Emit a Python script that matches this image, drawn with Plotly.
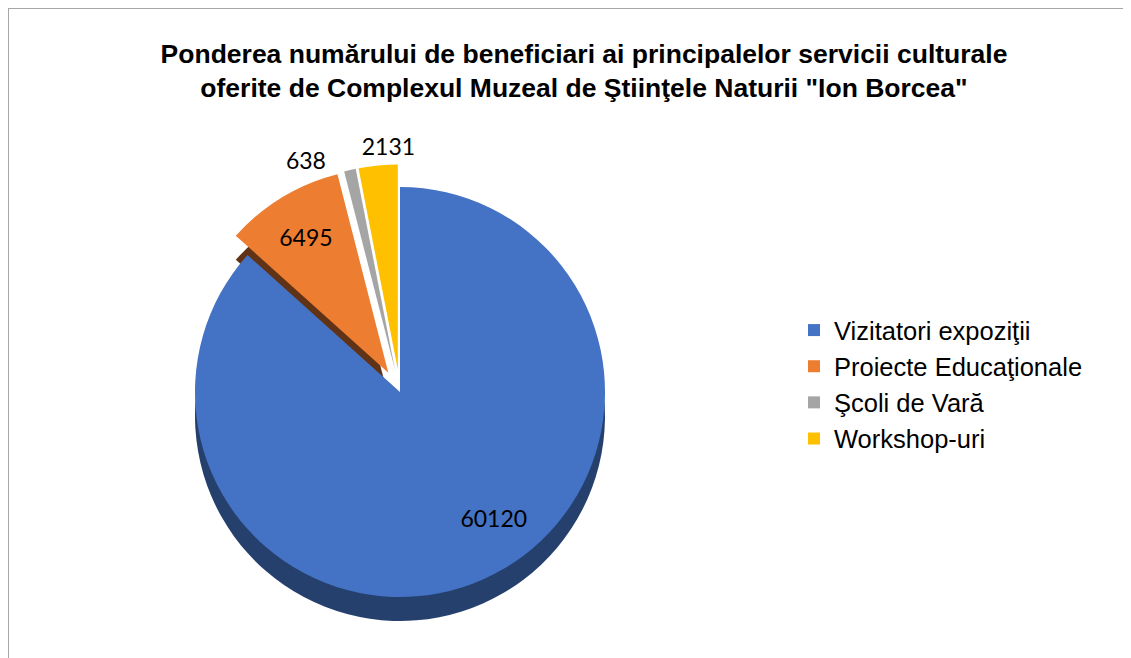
import plotly.graph_objects as go

categories = ["Vizitatori expoziţii", "Proiecte Educaţionale", "Şcoli de Vară", "Workshop-uri"]
values = [60120, 6495, 638, 2131]
colors = ["#4472c4", "#ed7d31", "#a5a5a5", "#ffc000"]
side_colors = ["#26406e", "#603316", "rgba(0,0,0,0)", "rgba(0,0,0,0)"]
pulls = [0, 0.11, 0.11, 0.11]
# labels split over several traces so each sits where the reference shows it
orange_templates = ["", "%{value:.0f}", "", ""]
blue_templates = ["%{value:.0f}", "", "", ""]
gray_templates = ["", "", "%{value:.0f}", ""]
yellow_templates = ["", "", "", "%{value:.0f}"]

# page body has an 8px margin, so figure coordinates are screen - 8
W, H = 1123, 650
cx, cy, r = 392, 384, 205
half = r * (1 + max(pulls))
depth = 24

def dom(cx_px, cy_px):
    return dict(x=[(cx_px - half) / W, (cx_px + half) / W],
                y=[1 - (cy_px + half) / H, 1 - (cy_px - half) / H])

lab_font = dict(family="Lato, Carlito, sans-serif", size=23, color="black")
clear = ["rgba(0,0,0,0)"] * 4

fig = go.Figure()
fig.add_trace(go.Pie(
    labels=categories, values=values, sort=False, direction="clockwise", rotation=0,
    pull=pulls, marker=dict(colors=side_colors, line=dict(width=0)),
    textinfo="none", hoverinfo="skip", showlegend=False, domain=dom(cx, cy + depth),
))
fig.add_trace(go.Pie(
    labels=categories, values=values, sort=False, direction="clockwise", rotation=0,
    pull=pulls, marker=dict(colors=colors, line=dict(width=0)),
    textinfo="none", texttemplate=orange_templates, textposition="inside",
    insidetextorientation="horizontal",
    textfont=lab_font, insidetextfont=lab_font,
    domain=dom(cx, cy),
))

def label_trace(templates, pos, dx, dy):
    return go.Pie(
        labels=categories, values=values, sort=False, direction="clockwise", rotation=0,
        pull=pulls, marker=dict(colors=clear, line=dict(width=0)),
        textinfo="none", texttemplate=templates, textposition=pos,
        insidetextorientation="horizontal",
        textfont=lab_font, insidetextfont=lab_font, outsidetextfont=lab_font,
        hoverinfo="skip", showlegend=False, domain=dom(cx + dx, cy + dy),
    )

fig.add_trace(label_trace(blue_templates, "inside", 52, 32))
fig.add_trace(label_trace(gray_templates, "outside", -17, 3))
fig.add_trace(label_trace(yellow_templates, "outside", 44, -6))

fig.update_layout(
    width=W, height=H,
    margin=dict(l=0, r=0, t=0, b=0),
    paper_bgcolor="white", plot_bgcolor="white",
    title=dict(
        text="<b>Ponderea numărului de beneficiari ai principalelor servicii culturale<br>oferite de Complexul Muzeal de Ştiinţele Naturii \"Ion Borcea\"</b>",
        x=576 / W, xanchor="center", y=1 - 55 / H, yanchor="top",
        font=dict(family="Liberation Sans, Arial, sans-serif", size=26.5, color="black"),
    ),
    legend=dict(
        x=786 / W, y=1 - 299 / H, xanchor="left", yanchor="top",
        font=dict(family="Liberation Sans, Arial, sans-serif", size=25.5, color="black"),
        tracegroupgap=0,
    ),
    shapes=[
        dict(type="line", xref="paper", yref="paper", x0=0, x1=1, y0=1, y1=1,
             line=dict(color="#a6a6a6", width=2)),
        dict(type="line", xref="paper", yref="paper", x0=0, x1=0, y0=0, y1=1,
             line=dict(color="#a6a6a6", width=2)),
    ],
)

fig.write_html("out.html")
